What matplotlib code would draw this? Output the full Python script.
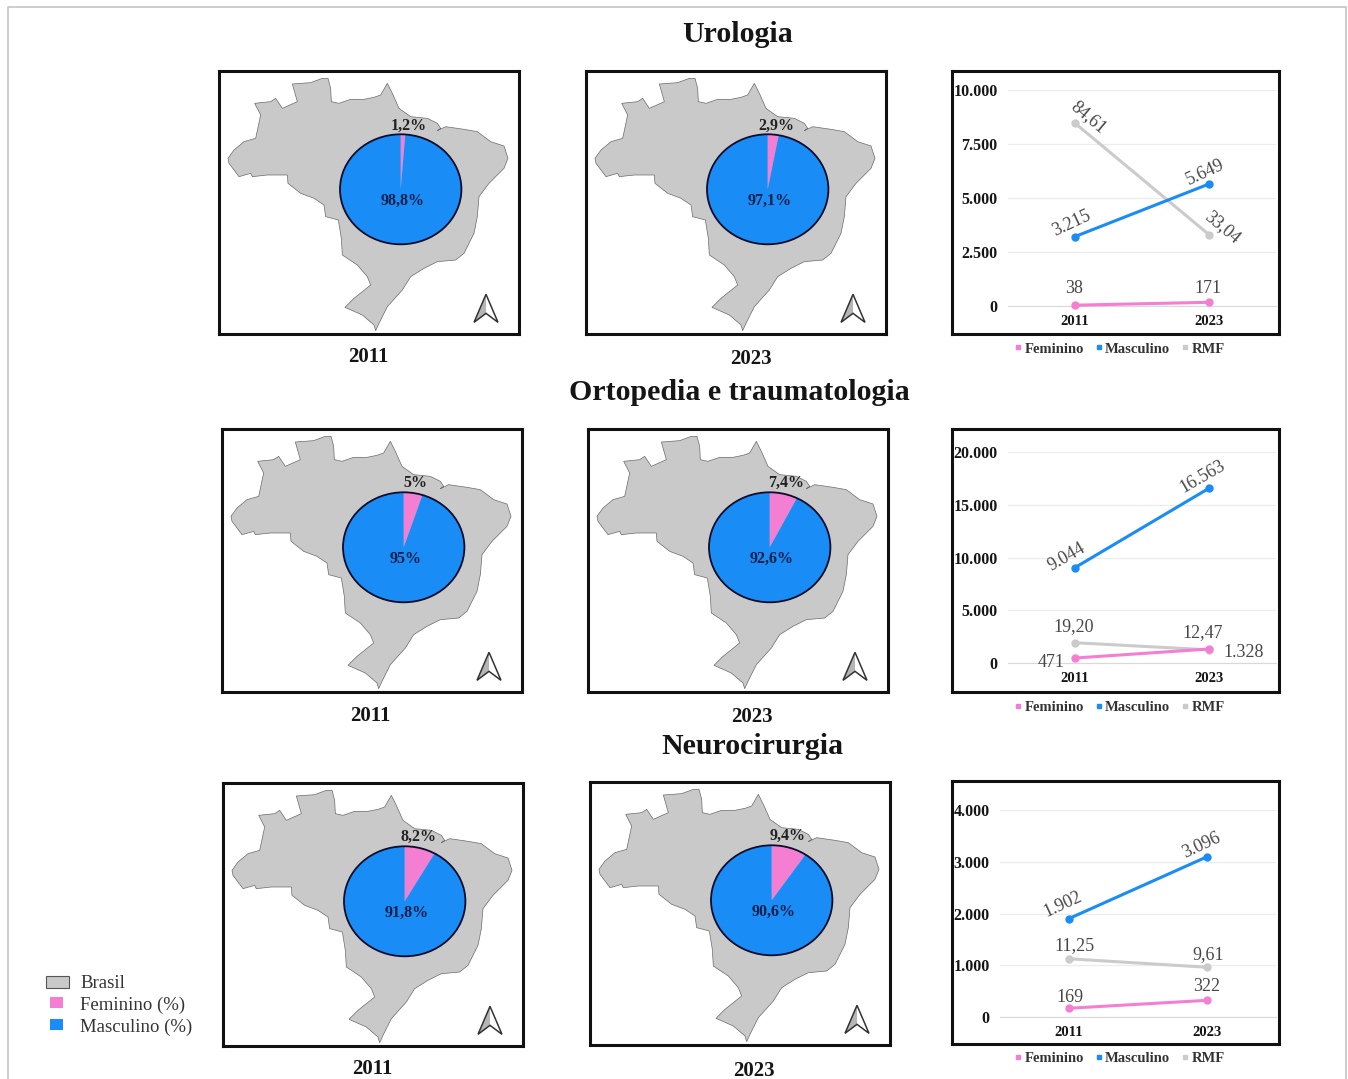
import matplotlib

matplotlib.use("Agg")
import matplotlib.pyplot as plt
from matplotlib.lines import Line2D
from matplotlib.patches import Circle, Polygon, Rectangle

W, H = 1348, 1079

plt.rcParams["font.family"] = ["Liberation Serif", "DejaVu Serif"]

BLUE = "#1a8cf5"
PINK = "#f47fd2"
GREY = "#c9c9c9"
RMF_GREY = "#cbcbcb"
TEXT = "#151515"
LABEL = "#474747"

YEARS = ["2011", "2023"]

# data
SPECIALTIES = ["Urologia", "Ortopedia e traumatologia", "Neurocirurgia"]
FEM_PCT = [[1.2, 2.9], [5, 7.4], [8.2, 9.4]]
MASC_PCT = [[98.8, 97.1], [95, 92.6], [91.8, 90.6]]
FEM_PCT_LABELS = [["1,2%", "2,9%"], ["5%", "7,4%"], ["8,2%", "9,4%"]]
MASC_PCT_LABELS = [["98,8%", "97,1%"], ["95%", "92,6%"], ["91,8%", "90,6%"]]

FEMININO = [[38, 171], [471, 1328], [169, 322]]
MASCULINO = [[3215, 5649], [9044, 16563], [1902, 3096]]
RMF = [[8461, 3304], [1920, 1247], [1125, 961]]
FEM_LABELS = [["38", "171"], ["471", "1.328"], ["169", "322"]]
MASC_LABELS = [["3.215", "5.649"], ["9.044", "16.563"], ["1.902", "3.096"]]
RMF_LABELS = [["84,61", "33,04"], ["19,20", "12,47"], ["11,25", "9,61"]]
Y_TICKS = [
    [0, 2500, 5000, 7500, 10000],
    [0, 5000, 10000, 15000, 20000],
    [0, 1000, 2000, 3000, 4000],
]
Y_TICK_LABELS = [
    ["0", "2.500", "5.000", "7.500", "10.000"],
    ["0", "5.000", "10.000", "15.000", "20.000"],
    ["0", "1.000", "2.000", "3.000", "4.000"],
]

BRAZIL_X = [245, 300, 335, 352, 360, 362, 385, 420, 460, 490, 510, 530, 545, 565,
            600, 650, 680, 690, 680, 705, 760, 800, 840, 880, 892, 880, 835, 805,
            800, 790, 760, 735, 680, 640, 600, 575, 530, 505, 495, 490, 455, 403,
            430, 480, 470, 440, 395, 392, 383, 345, 340, 310, 270, 232, 230, 170,
            125, 120, 85, 55, 52, 70, 100, 135, 150, 132, 180, 195, 215, 260]
BRAZIL_Y = [72, 68, 55, 55, 85, 125, 130, 118, 118, 112, 105, 70, 100, 145,
            170, 175, 190, 205, 212, 200, 208, 215, 245, 258, 295, 325, 370, 410,
            470, 520, 580, 600, 605, 625, 650, 690, 740, 790, 812, 795, 765, 742,
            715, 675, 650, 615, 585, 535, 480, 470, 435, 415, 400, 370, 345, 345,
            350, 340, 350, 310, 295, 270, 245, 235, 165, 130, 125, 115, 145, 125]

# layout, in reference pixels
MAP_BOXES = [[(218, 70), (585, 70)], [(221, 428), (587, 428)], [(222, 782), (589, 781)]]
YEAR_POS = [[(368, 357), (751, 359)], [(370, 716), (752, 717)], [(372, 1069), (754, 1071)]]
TITLE_POS = [(738, 34), (739, 393), (752, 746)]
FEM_OFFSET = [[(8, 63), (9, 63)], [(12, 64), (16, 64)], [(14, 64), (16, 64)]]
LINE_BOXES = [(952, 71, 1279, 334), (952, 429, 1279, 692), (952, 781, 1279, 1044)]
PLOT_BOXES = [(1008, 90, 1276, 306), (1008, 452, 1276, 663), (1000, 810, 1276, 1017)]
LEGEND_Y = [349, 707, 1058]

# (dx, dy) in pixels from each point to its label
FEM_OFF = [[(-1, 17), (-1, 14)], [(-24, -4), (35, -4)], [(1, 11), (0, 14)]]
MASC_OFF = [[(-3, 13), (-4, 12)], [(-8, 11), (-6, 12)], [(-6, 14), (-6, 11)]]
RMF_OFF = [[(14, 6), (13, 7)], [(-1, 16), (-6, 17)], [(5, 13), (1, 13)]]
MASC_ROT = [25, 30, 25]
RMF_ROT = [[-40, -40], [0, 0], [0, 0]]


def px_axes(fig, x0, y0, x1, y1, **kw):
    return fig.add_axes([x0 / W, 1 - y1 / H, (x1 - x0) / W, (y1 - y0) / H], **kw)


def draw_map(fig, box, fem, masc, fem_label, masc_label, fem_off):
    x0, y0 = box
    ax = px_axes(fig, x0 + 1, y0 + 1, x0 + 301, y0 + 264)
    ax.set_xlim(25, 925)
    ax.set_ylim(822, 33)
    ax.set_xticks([])
    ax.set_yticks([])
    for sp in ax.spines.values():
        sp.set_linewidth(2.2)
        sp.set_color("#111111")
    ax.add_patch(Polygon(list(zip(BRAZIL_X, BRAZIL_Y)), closed=True, fc=GREY,
                         ec="#6a6a6a", lw=0.5))
    # north arrow
    ax.add_patch(Polygon([(826, 703), (826, 760), (790, 787)], fc="#b5b5b5", ec="none"))
    ax.add_patch(Polygon([(826, 703), (862, 787), (826, 760), (790, 787)], fill=False,
                         ec="#333333", lw=1.1))

    cx, cy = x0 + 182.7, y0 + 119.3
    rx, ry = 60.7, 55
    pie = px_axes(fig, cx - rx, cy - ry, cx + rx, cy + ry)
    pie.pie([fem, masc], colors=[PINK, BLUE], startangle=90, counterclock=False, radius=1)
    pie.set_aspect("auto")
    pie.set_xlim(-1, 1)
    pie.set_ylim(-1, 1)
    pie.add_patch(Circle((0, 0), 1, fill=False, ec="#0b0b2a", lw=1.3, clip_on=False))

    pie.annotate(fem_label, (0, 0), xytext=fem_off, textcoords="offset pixels",
                 ha="center", va="center", fontsize=11.5, fontweight="bold",
                 color="#222222", annotation_clip=False)
    pie.annotate(masc_label, (0, 0), xytext=(2, -12), textcoords="offset pixels",
                 ha="center", va="center", fontsize=11.5, fontweight="bold", color="#0b1f4a")


def draw_lines(fig, i):
    x0, y0, x1, y1 = LINE_BOXES[i]
    frame = px_axes(fig, x0, y0, x1, y1)
    frame.set_xticks([])
    frame.set_yticks([])
    for sp in frame.spines.values():
        sp.set_linewidth(2.2)
        sp.set_color("#111111")

    ax = px_axes(fig, *PLOT_BOXES[i], facecolor="none")
    x = [0, 1]
    for vals, color in ((RMF[i], RMF_GREY), (MASCULINO[i], BLUE), (FEMININO[i], PINK)):
        ax.plot(x, vals, color=color, lw=2.2, marker="o", ms=5, clip_on=False, zorder=3)
    ax.set_xlim(-0.5, 1.5)
    ax.set_ylim(0, Y_TICKS[i][-1])
    ax.set_xticks(x, YEARS, fontsize=10.5, fontweight="bold", color=TEXT)
    ax.set_yticks(Y_TICKS[i], Y_TICK_LABELS[i], fontsize=11.5, fontweight="bold", color=TEXT)
    ax.tick_params(length=0)
    ax.tick_params(axis="x", pad=6.5)
    ax.tick_params(axis="y", pad=7.5)
    ax.grid(axis="y", color="#ececec", lw=0.9)
    ax.set_axisbelow(True)
    for name, sp in ax.spines.items():
        sp.set_visible(name == "bottom")
        sp.set_color("#d9d9d9")

    for j in x:
        ax.annotate(FEM_LABELS[i][j], (j, FEMININO[i][j]), xytext=FEM_OFF[i][j],
                    textcoords="offset pixels", ha="center", va="center",
                    fontsize=13, color=LABEL)
        ax.annotate(MASC_LABELS[i][j], (j, MASCULINO[i][j]), xytext=MASC_OFF[i][j],
                    textcoords="offset pixels", ha="center", va="center",
                    fontsize=13, color=LABEL, rotation=MASC_ROT[i])
        ax.annotate(RMF_LABELS[i][j], (j, RMF[i][j]), xytext=RMF_OFF[i][j],
                    textcoords="offset pixels", ha="center", va="center",
                    fontsize=13, color=LABEL, rotation=RMF_ROT[i][j])

    handles = [Line2D([], [], ls="none", marker="s", ms=2.5, color=c) for c in (PINK, BLUE, RMF_GREY)]
    fig.legend(handles, ["Feminino", "Masculino", "RMF"], loc="center",
               bbox_to_anchor=(1118 / W, 1 - LEGEND_Y[i] / H), ncol=3, frameon=False,
               prop={"size": 10.5, "weight": "bold"}, labelcolor="#333333",
               handletextpad=0.0, columnspacing=0.55, handlelength=0.9, borderpad=0)


fig = plt.figure(figsize=(W / 100, H / 100), dpi=100)

# page overlay, pixel coordinates
page = fig.add_axes([0, 0, 1, 1])
page.set_xlim(0, W)
page.set_ylim(H, 0)
page.axis("off")
page.plot([8, 8, 1346, 1346], [H, 7, 7, H], color="#c4c4c4", lw=1.2)

for i in range(3):
    page.text(*TITLE_POS[i], SPECIALTIES[i], ha="center", va="center",
              fontsize=21.5, fontweight="bold", color=TEXT)
    for j in range(2):
        draw_map(fig, MAP_BOXES[i][j], FEM_PCT[i][j], MASC_PCT[i][j],
                 FEM_PCT_LABELS[i][j], MASC_PCT_LABELS[i][j], FEM_OFFSET[i][j])
        page.text(*YEAR_POS[i][j], YEARS[j], ha="center", va="center",
                  fontsize=15, fontweight="bold", color=TEXT)
    draw_lines(fig, i)

# map legend
page.add_patch(Rectangle((46, 976), 23, 12, fc=GREY, ec="#555555", lw=0.8))
page.add_patch(Rectangle((50, 997), 13, 11, fc=PINK, ec="none"))
page.add_patch(Rectangle((50, 1019), 13, 11, fc=BLUE, ec="none"))
for y, s in zip((984, 1005, 1027), ("Brasil", "Feminino (%)", "Masculino (%)")):
    page.text(80, y, s, ha="left", va="center", fontsize=13.5, color="#333333")

fig.savefig("out.png", dpi=100)
